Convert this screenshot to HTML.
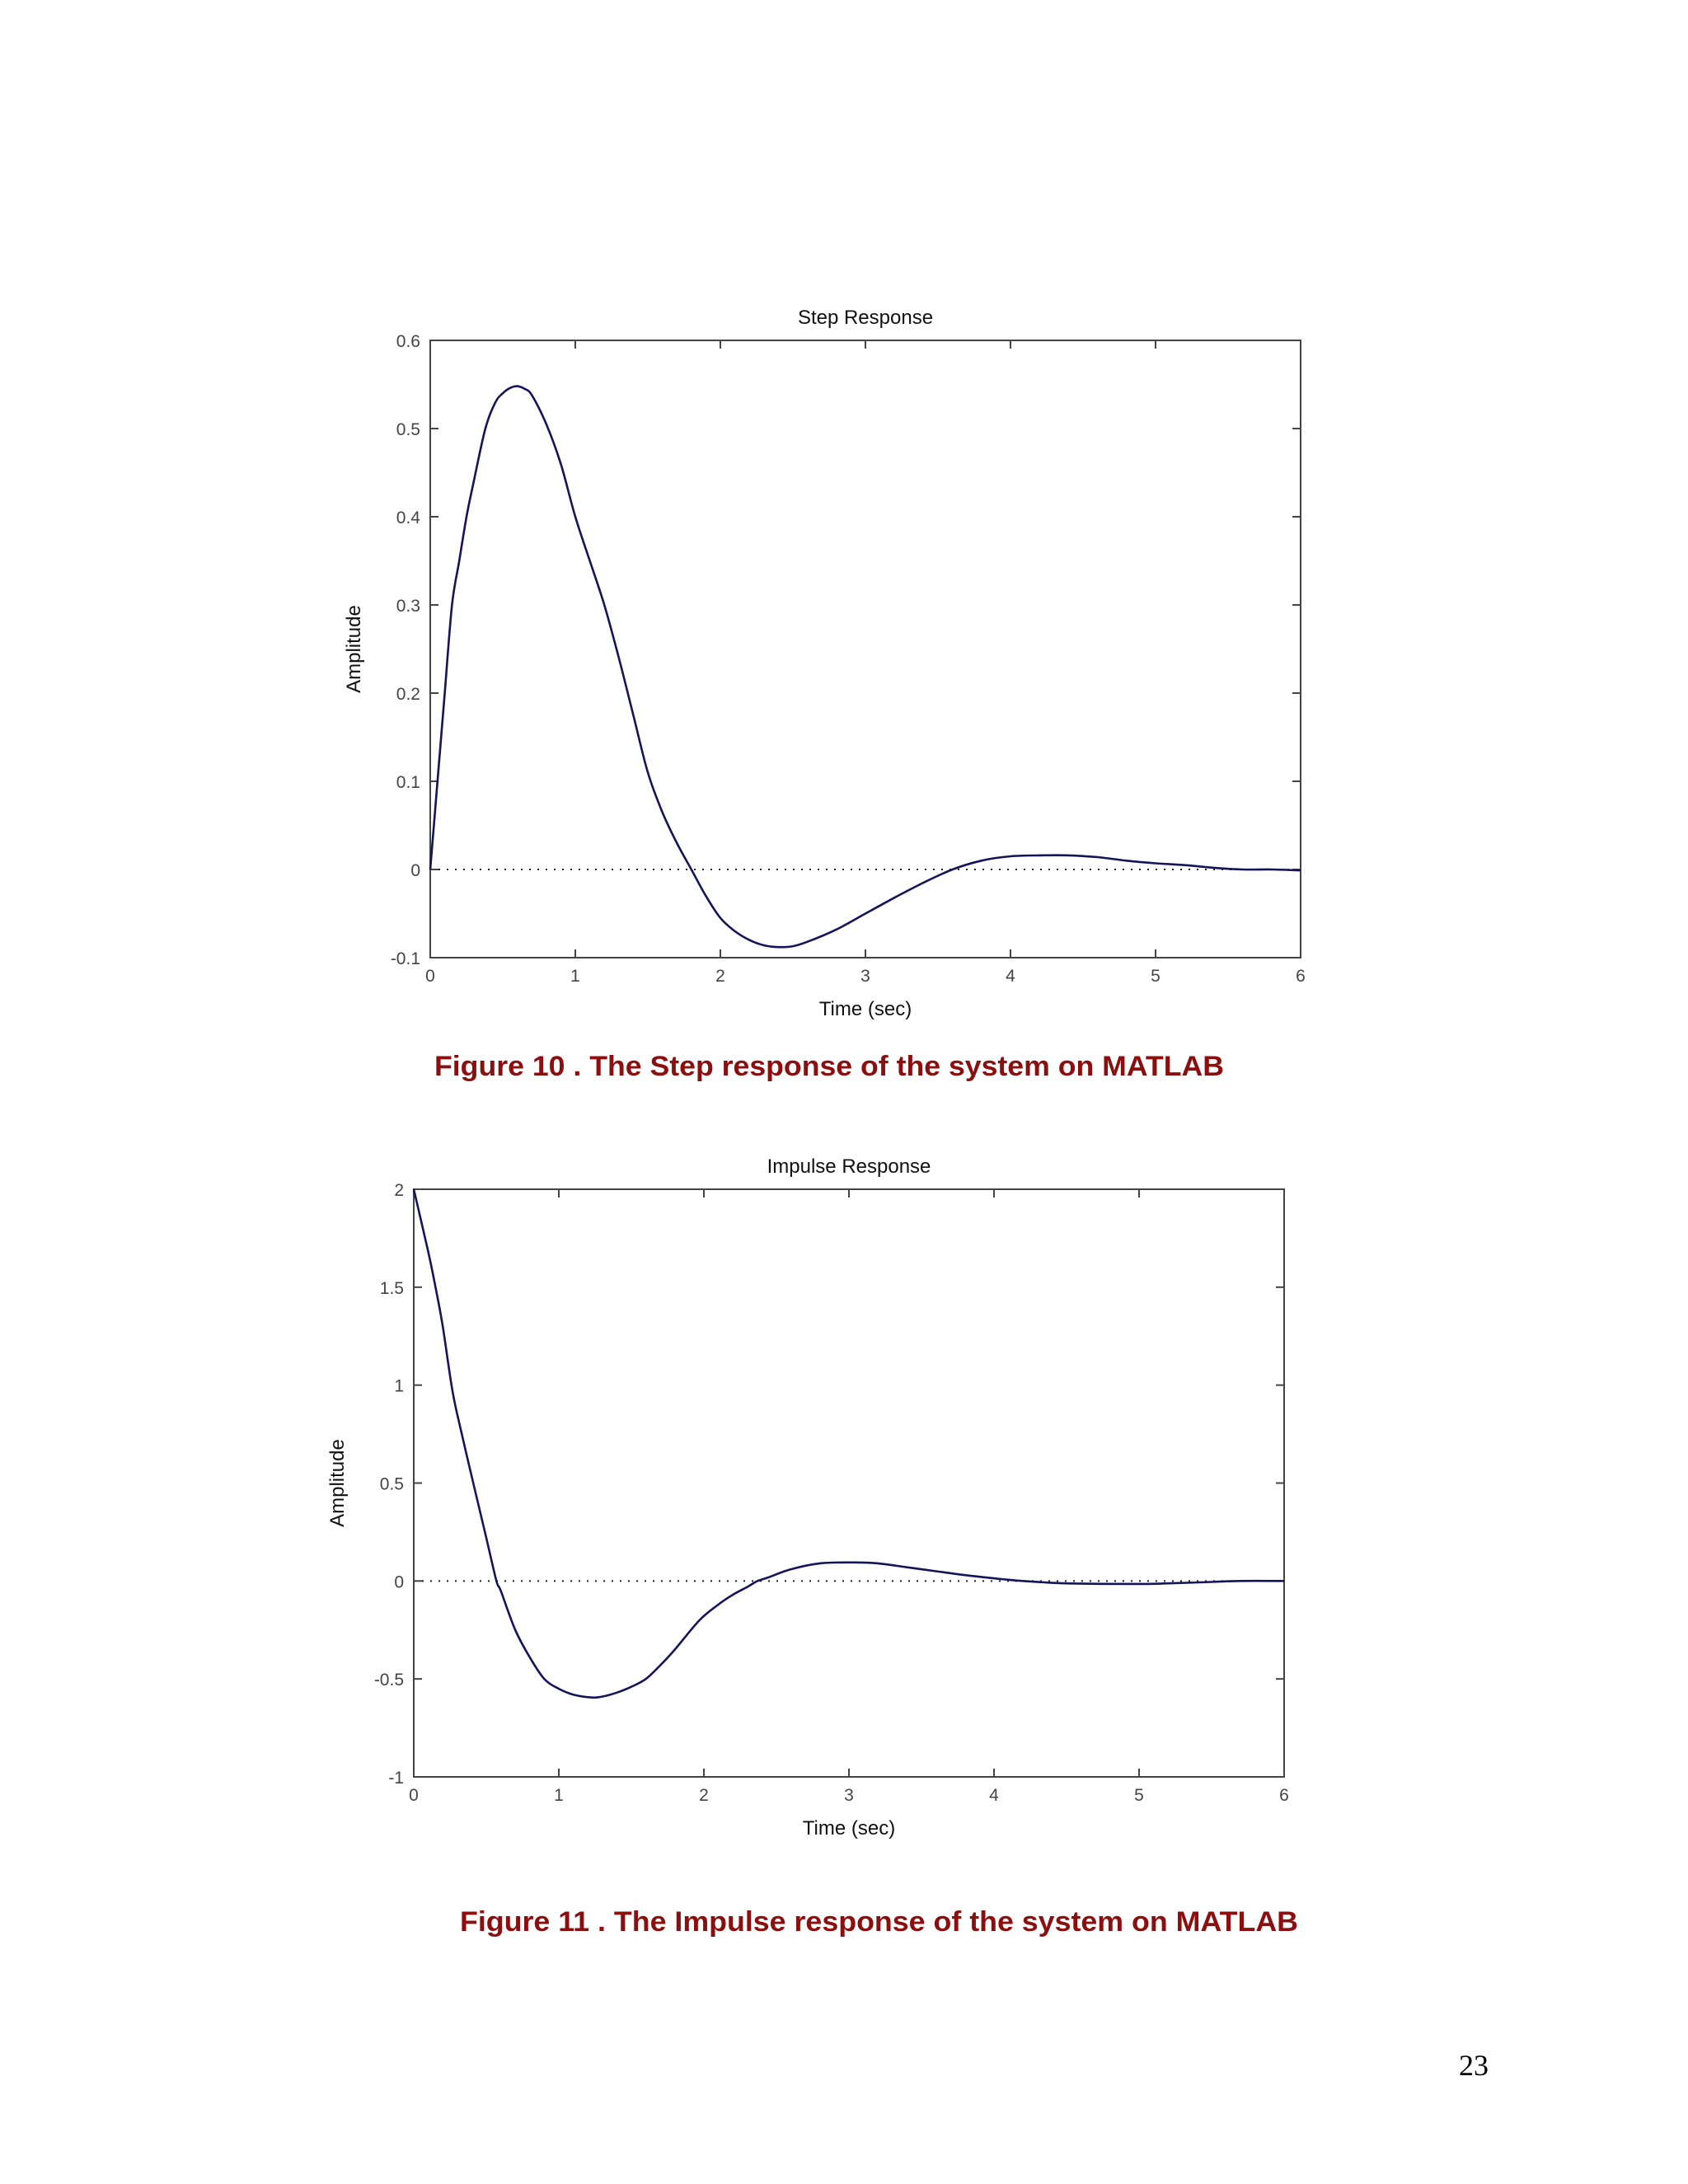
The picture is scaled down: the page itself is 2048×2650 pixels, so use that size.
<!DOCTYPE html>
<html><head><meta charset="utf-8"><style>
html,body{margin:0;padding:0;background:#fff;}
svg{display:block;}
</style></head><body>
<svg id="page" width="2048" height="2650" viewBox="0 0 2048 2650" xmlns="http://www.w3.org/2000/svg" font-family="Liberation Sans, sans-serif">
<rect width="2048" height="2650" fill="#fff"/>
<g id="chart1"></g>
<g id="chart2"></g>
<text x="527" y="1305" font-size="34" font-weight="bold" fill="#8b0f0f" textLength="958" lengthAdjust="spacingAndGlyphs">Figure 10 . The Step response of the system on MATLAB</text>
<text x="558" y="2343" font-size="34" font-weight="bold" fill="#8b0f0f" textLength="1017" lengthAdjust="spacingAndGlyphs">Figure 11 . The Impulse response of the system on MATLAB</text>
<text x="1788" y="2518" font-size="36" font-family="Liberation Serif, serif" text-anchor="middle" fill="#000">23</text>
</svg>
<script>
const stepT = [0,0.05,0.1,0.15,0.2,0.25,0.3,0.38,0.45,0.5,0.55,0.6,0.65,0.7,0.8,0.9,1.0,1.1,1.2,1.3,1.4,1.5,1.6,1.7,1.8,1.9,2.0,2.1,2.2,2.3,2.4,2.5,2.6,2.8,3.0,3.2,3.4,3.6,3.8,4.0,4.2,4.4,4.6,4.8,5.0,5.2,5.4,5.6,5.8,6.0];
const stepY = [0,0.1,0.2,0.3,0.35,0.4,0.44,0.5,0.53,0.54,0.546,0.548,0.545,0.538,0.505,0.46,0.40,0.35,0.30,0.24,0.175,0.11,0.065,0.03,0.0,-0.03,-0.055,-0.07,-0.08,-0.086,-0.088,-0.087,-0.082,-0.068,-0.05,-0.032,-0.015,0,0.01,0.015,0.016,0.016,0.014,0.01,0.007,0.005,0.002,0,0,-0.001];
const impT = [0,0.1,0.15,0.2,0.26,0.3,0.41,0.5,0.57,0.6,0.7,0.8,0.9,1.0,1.1,1.23,1.3,1.4,1.5,1.6,1.7,1.8,1.97,2.1,2.2,2.3,2.37,2.45,2.6,2.8,3.03,3.2,3.4,3.6,3.8,4.05,4.2,4.5,5.0,5.2,5.5,5.7,6.0];
const impY = [2,1.68,1.5,1.3,1.0,0.85,0.5,0.22,0.0,-0.05,-0.25,-0.39,-0.5,-0.55,-0.58,-0.595,-0.59,-0.57,-0.54,-0.5,-0.43,-0.35,-0.2,-0.12,-0.07,-0.03,0,0.02,0.06,0.09,0.095,0.09,0.07,0.05,0.03,0.01,0,-0.012,-0.015,-0.012,-0.005,0,0];
const xTicks = [0,1,2,3,4,5,6];
const stepYTicks = [-0.1,0,0.1,0.2,0.3,0.4,0.5,0.6];
const stepYLabels = ["-0.1","0","0.1","0.2","0.3","0.4","0.5","0.6"];
const impYTicks = [-1,-0.5,0,0.5,1,1.5,2];
const impYLabels = ["-1","-0.5","0","0.5","1","1.5","2"];

const NS="http://www.w3.org/2000/svg";
function mk(parent,tag,attrs){const e=document.createElementNS(NS,tag);for(const k in attrs)e.setAttribute(k,attrs[k]);parent.appendChild(e);return e;}

function smoothPath(P){
  let d='M'+P[0][0].toFixed(1)+','+P[0][1].toFixed(1);
  for(let i=0;i<P.length-1;i++){
    const p0=P[Math.max(0,i-1)],p1=P[i],p2=P[i+1],p3=P[Math.min(P.length-1,i+2)];
    const c1x=p1[0]+(p2[0]-p0[0])/6,c1y=p1[1]+(p2[1]-p0[1])/6;
    const c2x=p2[0]-(p3[0]-p1[0])/6,c2y=p2[1]-(p3[1]-p1[1])/6;
    d+=' C'+c1x.toFixed(1)+','+c1y.toFixed(1)+' '+c2x.toFixed(1)+','+c2y.toFixed(1)+' '+p2[0].toFixed(1)+','+p2[1].toFixed(1);
  }
  return d;
}

function drawChart(gid,box,ymin,ymax,yTicks,yLabels,T,Y,title){
  const g=document.getElementById(gid);
  const sx=t=>box.l+(t-0)/6*(box.r-box.l);
  const sy=v=>box.b-(v-ymin)/(ymax-ymin)*(box.b-box.t);
  const tt=mk(g,'text',{x:(box.l+box.r)/2,y:box.t-20,'font-size':24,'text-anchor':'middle',fill:'#111'});
  
  
  tt.textContent=title;
  const zl=mk(g,'line',{x1:box.l,x2:box.r,y1:sy(0),y2:sy(0),stroke:'#222','stroke-width':2,'stroke-dasharray':'2 8'});
  
  
  const ax=mk(g,'rect',{x:box.l,y:box.t,width:box.r-box.l,height:box.b-box.t,fill:'none',stroke:'#444','stroke-width':2});
  
  
  xTicks.forEach(t=>{
    const x=sx(t);
    mk(g,'line',{x1:x,x2:x,y1:box.b,y2:box.b-10,stroke:'#444','stroke-width':2});
    mk(g,'line',{x1:x,x2:x,y1:box.t,y2:box.t+10,stroke:'#444','stroke-width':2});
    const lb=mk(g,'text',{x:x,y:box.b+29,'font-size':21,'text-anchor':'middle',fill:'#444'});
    
    
    lb.textContent=String(t);
  });
  yTicks.forEach((v,i)=>{
    const y=sy(v);
    mk(g,'line',{x1:box.l,x2:box.l+10,y1:y,y2:y,stroke:'#444','stroke-width':2});
    mk(g,'line',{x1:box.r,x2:box.r-10,y1:y,y2:y,stroke:'#444','stroke-width':2});
    const lb=mk(g,'text',{x:box.l-12,y:y+8,'font-size':21,'text-anchor':'end',fill:'#444'});
    
    
    lb.textContent=yLabels[i];
  });
  const xt=mk(g,'text',{x:(box.l+box.r)/2,y:box.b+70,'font-size':24,'text-anchor':'middle',fill:'#111'});
  
  
  xt.textContent='Time (sec)';
  const cy=(box.t+box.b)/2;
  const yt=mk(g,'text',{x:box.l-85,y:cy,'font-size':24,'text-anchor':'middle',fill:'#111',transform:`rotate(-90 ${box.l-85} ${cy})`});
  
  
  yt.textContent='Amplitude';
  const P=T.map((t,i)=>[sx(t),sy(Y[i])]);
  const pl=mk(g,'path',{d:smoothPath(P),fill:'none',stroke:'#14145a','stroke-width':2.6,'stroke-linejoin':'round'});
  
  
}
drawChart('chart1',{l:522,r:1578,t:413,b:1162},-0.1,0.6,stepYTicks,stepYLabels,stepT,stepY,'Step Response');
drawChart('chart2',{l:502,r:1558,t:1443,b:2156},-1,2,impYTicks,impYLabels,impT,impY,'Impulse Response');
</script>
</body></html>
